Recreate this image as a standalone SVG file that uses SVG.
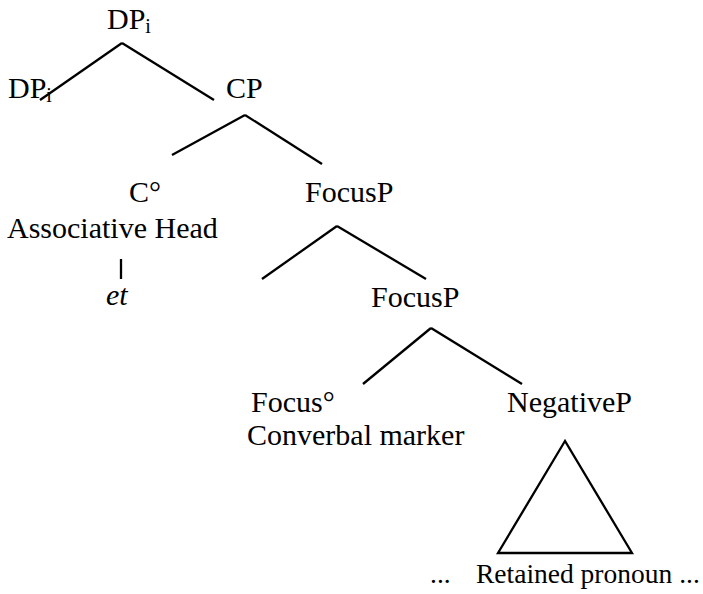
<svg xmlns="http://www.w3.org/2000/svg" width="703" height="594" viewBox="0 0 703 594">
<style>
text{font-family:"Liberation Serif","Times New Roman",serif;font-size:30px;fill:#000}
.sub{font-size:20px}
.sm{font-size:27.5px}
.it{font-style:italic}
#connectors line,#connectors polygon{stroke:#000;stroke-width:2.3;fill:none;stroke-linecap:butt}
</style>
<rect width="703" height="594" fill="#fff"/>
<g id="connectors">
<line x1="122" y1="43" x2="40" y2="100"/>
<line x1="122" y1="43" x2="214" y2="100"/>
<line x1="245" y1="115" x2="172" y2="155"/>
<line x1="245" y1="115" x2="322" y2="164"/>
<line x1="121" y1="259" x2="121" y2="279"/>
<line x1="337" y1="226" x2="262" y2="279"/>
<line x1="337" y1="226" x2="426" y2="279"/>
<line x1="431" y1="328" x2="363" y2="384"/>
<line x1="431" y1="328" x2="522" y2="384"/>
<polygon points="565,441 498,553 632,553"/>
</g>
<g id="n-dp-top"><text x="107" y="29">DP<tspan class="sub" dy="4">i</tspan></text></g>
<g id="n-dp-left"><text x="8" y="98">DP<tspan class="sub" dy="4">i</tspan></text></g>
<g id="n-cp"><text x="226" y="98">CP</text></g>
<g id="n-c"><text x="129" y="202">C°</text><text x="7" y="238">Associative Head</text></g>
<g id="n-et"><text class="it" x="106" y="305">et</text></g>
<g id="n-focusp1"><text x="305" y="202">FocusP</text></g>
<g id="n-focusp2"><text x="371" y="307">FocusP</text></g>
<g id="n-focus0"><text x="251" y="412">Focus°</text><text x="247" y="445">Converbal marker</text></g>
<g id="n-negp"><text x="507" y="412">NegativeP</text></g>
<g id="n-retained"><text class="sm" x="430" y="583">...</text><text class="sm" x="476" y="583">Retained pronoun ...</text></g>
</svg>
